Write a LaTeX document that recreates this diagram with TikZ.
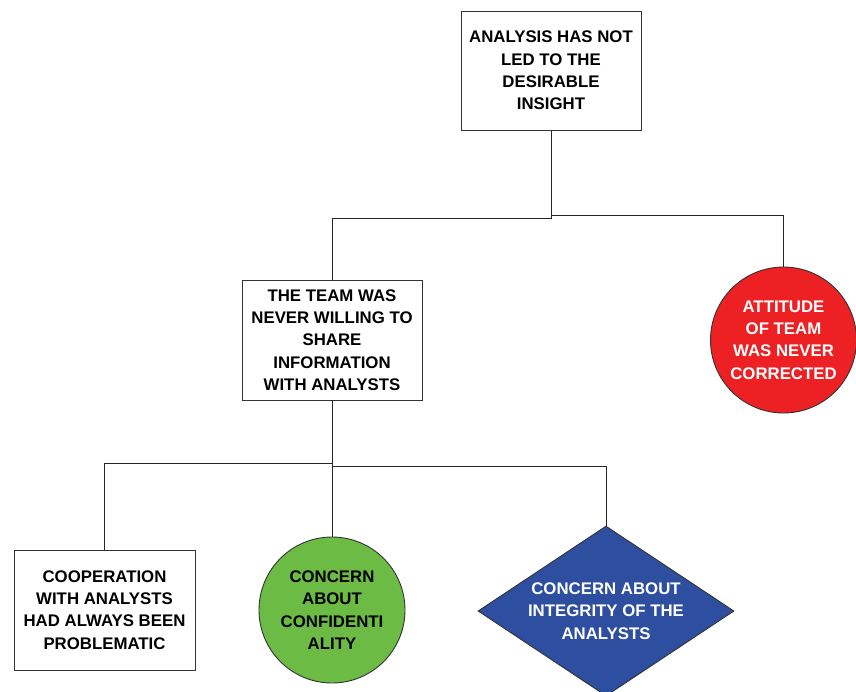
\documentclass[tikz,border=0pt]{standalone}
\usepackage{fontspec}
\setmainfont{Liberation Sans}
\usetikzlibrary{
  positioning,
  shapes.geometric,
}
\definecolor{causered}{RGB}{237,32,36}
\definecolor{causegreen}{RGB}{108,187,69}
\definecolor{causeblue}{RGB}{46,78,160}
\tikzset{
  every node/.style={font=\bfseries\fontsize{16.8}{22.3}\selectfont,align=center},
  causebox/.style={rectangle,draw=black!80,line width=0.9pt,minimum width=180,minimum height=120,inner sep=0pt},
  causeround/.style={circle,draw=black!80,line width=0.9pt,minimum size=146,inner sep=0pt},
  causediamond/.style={diamond,draw=black!80,line width=0.9pt,aspect=1.5,minimum width=256,minimum height=170,inner sep=0pt},
  link/.style={draw=black!85,line width=0.9pt},
}

\begin{document}
\begin{tikzpicture}[x=1pt,y=-1pt]

        \useasboundingbox (0,0) rectangle (856,691);

        \node[causebox,minimum height=119] (analysis) at (551,70.5) {ANALYSIS HAS NOT\\LED TO THE\\DESIRABLE\\INSIGHT};
        \node[causebox] (team) at (332,340) {THE TEAM WAS\\NEVER WILLING TO\\SHARE\\INFORMATION\\WITH ANALYSTS};
        \node[causeround,fill=causered,text=white] (attitude) at (783.5,340) {ATTITUDE\\OF TEAM\\WAS NEVER\\CORRECTED};
        \node[causebox,minimum width=181] (cooperation) at (104.5,610) {COOPERATION\\WITH ANALYSTS\\HAD ALWAYS BEEN\\PROBLEMATIC};
        \node[causeround,fill=causegreen] (confidentiality) at (332,610) {CONCERN\\ABOUT\\CONFIDENTI\\ALITY};
        \node[causediamond,fill=causeblue,text=white] (integrity) at (606,611) {CONCERN ABOUT\\INTEGRITY OF THE\\ANALYSTS};

        \draw[link] (analysis.south) -- ++(0,88) -| (team.north);
        \draw[link] (analysis.south) ++(0,85) -| (attitude.north);
        \draw[link] (team.south) -- ++(0,63) -| (cooperation.north);
        \draw[link] (team.south) -- (confidentiality.north);
        \draw[link] (team.south) ++(0,66) -| (integrity.north);

      \end{tikzpicture}
\end{document}
